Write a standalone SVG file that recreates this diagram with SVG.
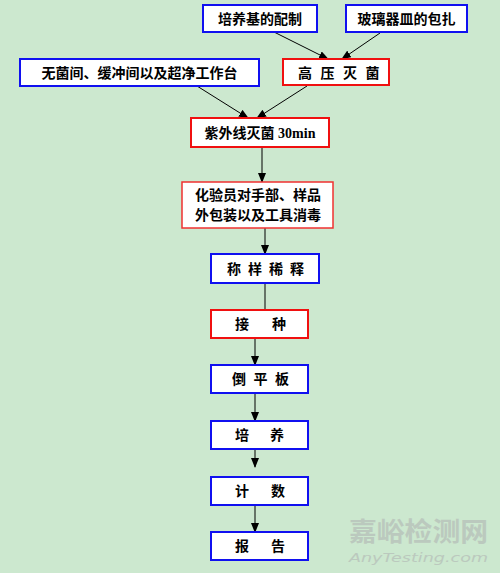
<svg xmlns="http://www.w3.org/2000/svg" width="500" height="573" viewBox="0 0 500 573">
<defs>
<marker id="ah" markerWidth="10" markerHeight="8" refX="9" refY="4" orient="auto" markerUnits="userSpaceOnUse">
<path d="M0,0 L10,4 L0,8 Z" fill="#000"/>
</marker>
<style>
.bg{fill:#CCE8CF}
.b{fill:#fff;stroke:#1010F0;stroke-width:2}
.r{fill:#fff;stroke:#F01010;stroke-width:2}
.t{font-family:"Liberation Serif","Noto Sans CJK SC",serif;font-weight:bold;font-size:14px;fill:#000}
.c{text-anchor:middle}
.ln{stroke:#000;stroke-width:1;fill:none}
.wm{font-family:"Noto Sans CJK SC",sans-serif;font-weight:bold;font-size:26px;fill:#B8C2BA;opacity:0.8}
.wm2{font-family:"DejaVu Sans",sans-serif;font-style:italic;font-size:13px;fill:#B8C2BA;opacity:0.8}
</style>
</defs>
<rect class="bg" x="0" y="0" width="500" height="573"/>
<g id="connectors">
<line class="ln" x1="272" y1="31" x2="328" y2="59" marker-end="url(#ah)"/>
<line class="ln" x1="380" y1="33" x2="342" y2="59" marker-end="url(#ah)"/>
<line class="ln" x1="197" y1="86" x2="248" y2="118" marker-end="url(#ah)"/>
<line class="ln" x1="307" y1="86" x2="257" y2="118" marker-end="url(#ah)"/>
<line class="ln" x1="262" y1="147" x2="262" y2="182" marker-end="url(#ah)"/>
<line class="ln" x1="265" y1="228" x2="265" y2="254" marker-end="url(#ah)"/>
<line class="ln" x1="265" y1="283" x2="265" y2="310"/>
<line class="ln" x1="255" y1="338" x2="255" y2="365" marker-end="url(#ah)"/>
<line class="ln" x1="255" y1="393" x2="255" y2="421" marker-end="url(#ah)"/>
<line class="ln" x1="255" y1="449" x2="255" y2="467" marker-end="url(#ah)"/>
<line class="ln" x1="255" y1="505" x2="255" y2="532" marker-end="url(#ah)"/>
</g>
<g id="n1"><rect class="b" x="203" y="5" width="114" height="27"/><text class="t c" x="260" y="23.5">培养基的配制</text></g>
<g id="n2"><rect class="b" x="346" y="5" width="121" height="27"/><text class="t c" x="406.5" y="23.5">玻璃器皿的包扎</text></g>
<g id="n3"><rect class="b" x="20" y="59" width="239" height="27"/><text class="t c" x="139.5" y="77.5">无菌间、缓冲间以及超净工作台</text></g>
<g id="n4"><rect class="r" x="283" y="59" width="106" height="26"/><text class="t" x="298 320.5 343 365.5" y="77.5">高压灭菌</text></g>
<g id="n5"><rect class="r" x="191" y="118" width="138" height="29"/><text class="t c" x="260" y="137.5">紫外线灭菌 30min</text></g>
<g id="n6"><rect class="r" x="182" y="182" width="151" height="46" style="stroke:#F03030;stroke-width:1.5"/><text class="t c" x="258" y="200">化验员对手部、样品</text><text class="t c" x="258" y="220">外包装以及工具消毒</text></g>
<g id="n7"><rect class="b" x="211" y="254" width="108" height="29"/><text class="t" x="227 248 269 290" y="273.5">称样稀释</text></g>
<g id="n8"><rect class="r" x="211" y="310" width="97" height="28"/><text class="t" x="235 272" y="329">接种</text></g>
<g id="n9"><rect class="b" x="211" y="365" width="97" height="28"/><text class="t" x="232 253.5 275" y="384">倒平板</text></g>
<g id="n10"><rect class="b" x="211" y="421" width="97" height="28"/><text class="t" x="235 270" y="440">培养</text></g>
<g id="n11"><rect class="b" x="211" y="477" width="97" height="28"/><text class="t" x="235 271" y="496">计数</text></g>
<g id="n12"><rect class="b" x="211" y="532" width="97" height="28"/><text class="t" x="235 271" y="551">报告</text></g>
<g id="watermark">
<text class="wm" x="349" y="541" textLength="139" lengthAdjust="spacingAndGlyphs">嘉峪检测网</text>
<text class="wm2" x="349" y="562" textLength="139" lengthAdjust="spacingAndGlyphs">AnyTesting.com</text>
</g>
</svg>
